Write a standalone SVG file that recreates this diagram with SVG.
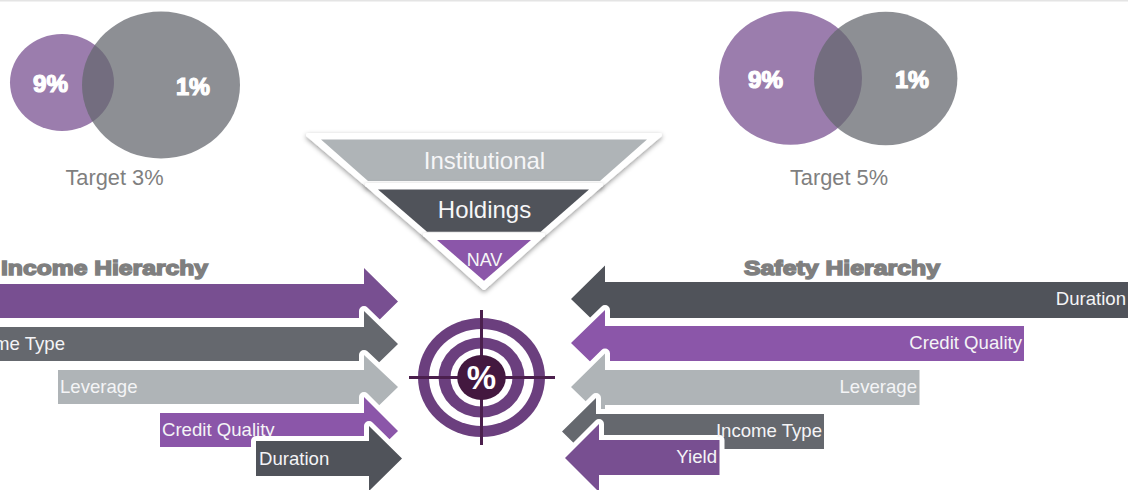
<svg xmlns="http://www.w3.org/2000/svg" width="1128" height="490" viewBox="0 0 1128 490">
<style>
text{font-family:"Liberation Sans",Arial,sans-serif}
.arrow{stroke:#fff;stroke-width:10;stroke-linejoin:round;paint-order:stroke}
.p1{fill:#784f91}.p2{fill:#8b56a9}.g1{fill:#65686e}.g2{fill:#afb4b7}.g3{fill:#50535a}
.lbl{fill:#f4f4f6;font-size:18.6px}
.end{text-anchor:end}
.venn{fill-opacity:.74}
.pct{fill:#fff;stroke:#fff;stroke-width:1.2;font-weight:700;font-size:23px}
.cap{fill:#7f7f7f;font-size:21.8px}
.head{fill:#7f7f7f;stroke:#7f7f7f;stroke-width:1.5;font-weight:700;font-size:21px}
.halo{fill:#fff;stroke:#fff;stroke-width:4;stroke-linejoin:round;filter:url(#sh)}
.fl{fill:#f6f6f7;text-anchor:middle;font-size:24px}
.ring{fill:#6b3f7e}.hole{fill:#fff}
.cross{stroke:#4b1f4d;stroke-width:3;fill:none}
</style>
<defs>
<filter id="sh" x="-15%" y="-15%" width="130%" height="135%"><feDropShadow dx="0" dy="2" stdDeviation="2.5" flood-color="#000" flood-opacity=".4"/></filter>
</defs>
<rect id="top-rule" x="0" y="0" width="1128" height="1.5" fill="#e4e4e4"/>

<g id="venn-target-3">
<ellipse class="venn p1" cx="62" cy="82.5" rx="52" ry="48.5"/>
<ellipse class="venn g1" cx="161" cy="85" rx="79" ry="73.5"/>
<text class="pct" x="50.5" y="91.5" text-anchor="middle" textLength="35" lengthAdjust="spacingAndGlyphs">9%</text>
<text class="pct" x="193" y="94.5" text-anchor="middle" textLength="34" lengthAdjust="spacingAndGlyphs">1%</text>
<text class="cap" x="114.5" y="185" text-anchor="middle">Target 3%</text>
</g>
<g id="venn-target-5">
<ellipse class="venn p1" cx="790.5" cy="78" rx="71.5" ry="66.7"/>
<ellipse class="venn g1" cx="885.7" cy="78.5" rx="71.7" ry="66.7"/>
<text class="pct" x="765.5" y="87.5" text-anchor="middle" textLength="35" lengthAdjust="spacingAndGlyphs">9%</text>
<text class="pct" x="912" y="87.5" text-anchor="middle" textLength="34" lengthAdjust="spacingAndGlyphs">1%</text>
<text class="cap" x="839" y="185" text-anchor="middle">Target 5%</text>
</g>

<g id="funnel-institutional"><polygon class="halo" points="308,135 660,135 601,185 367,185"/><polygon class="g2" points="321,139.5 647,139.5 600,181 368,181"/><text class="fl" x="484.5" y="169">Institutional</text></g>
<g id="funnel-holdings"><polygon class="halo" points="367,185 601,185 543,235 425,235"/><polygon class="g3" points="378,189.5 589,189.5 540.7,231.7 427,231.7"/><text class="fl" x="484.5" y="218">Holdings</text></g>
<g id="funnel-nav"><polygon class="halo" points="425,235 543,235 484,288"/><polygon class="p2" points="437,240 531,240 484,280.7"/><text class="fl" x="484.5" y="266" style="font-size:18px">NAV</text></g>

<g id="connectors">
<g id="income-yield"><polygon class="arrow p1" points="-20,284 364,284 364,268 398,301.5 364,335 364,318 -20,318"/></g>
<g id="income-type"><polygon class="arrow g1" points="-20,327 364,327 364,311 398,344 364,377 364,361 -20,361"/><text class="lbl end" x="65" y="350">Income Type</text></g>
<g id="income-leverage"><polygon class="arrow g2" points="58,370 364,370 364,355 398,387 364,420 364,404 58,404"/><text class="lbl" x="60" y="393">Leverage</text></g>
<g id="income-credit"><polygon class="arrow p2" points="160,413 364,413 364,397 398,431 364,464 364,447 160,447"/><text class="lbl" x="162" y="436">Credit Quality</text></g>
<g id="income-duration"><polygon class="arrow g3" points="256,441 369,441 369,426 402,458.5 369,491 369,476 256,476"/><text class="lbl" x="259" y="465">Duration</text></g>

<g id="safety-duration"><polygon class="arrow g3" points="1140,282 605,282 605,265.5 571,299 605,332 605,318 1140,318"/><text class="lbl end" x="1126" y="305">Duration</text></g>
<g id="safety-credit"><polygon class="arrow p2" points="1024,326 605,326 605,310 571,343 605,376 605,361 1024,361"/><text class="lbl end" x="1022" y="349">Credit Quality</text></g>
<g id="safety-leverage"><polygon class="arrow g2" points="919.5,370 605,370 605,353.5 571,387 605,420 605,405 919.5,405"/><text class="lbl end" x="917" y="393">Leverage</text></g>
<g id="safety-income"><polygon class="arrow g1" points="824,414 596,414 596,398 562,431.5 596,465 596,449 824,449"/></g>
<g id="safety-yield"><polygon class="arrow p1" points="719.5,440 599,440 599,424 565,458 599,492 599,475 719.5,475"/><text class="lbl end" x="717" y="463">Yield</text></g>
<text id="safety-income-label" class="lbl end" x="822" y="436.5">Income Type</text>
</g>

<text id="income-title" class="head" x="1" y="274.5" textLength="207" lengthAdjust="spacingAndGlyphs">Income Hierarchy</text>
<text id="safety-title" class="head" x="744" y="274.5" textLength="196" lengthAdjust="spacingAndGlyphs">Safety Hierarchy</text>

<g id="target">
<ellipse class="ring" cx="481.5" cy="377.5" rx="63.5" ry="59.5"/>
<ellipse class="hole" cx="481.5" cy="377.5" rx="52.5" ry="48.5"/>
<ellipse class="ring" cx="481.5" cy="377.5" rx="43" ry="40"/>
<ellipse class="hole" cx="481.5" cy="377.5" rx="31" ry="29"/>
<path class="cross" d="M409 377.5H555M481.5 310V445"/>
<ellipse cx="481.5" cy="377.5" rx="24.3" ry="22.5" fill="#43183f"/>
<text x="481.5" y="389" text-anchor="middle" fill="#fff" font-weight="700" font-size="33">%</text>
</g>
</svg>
